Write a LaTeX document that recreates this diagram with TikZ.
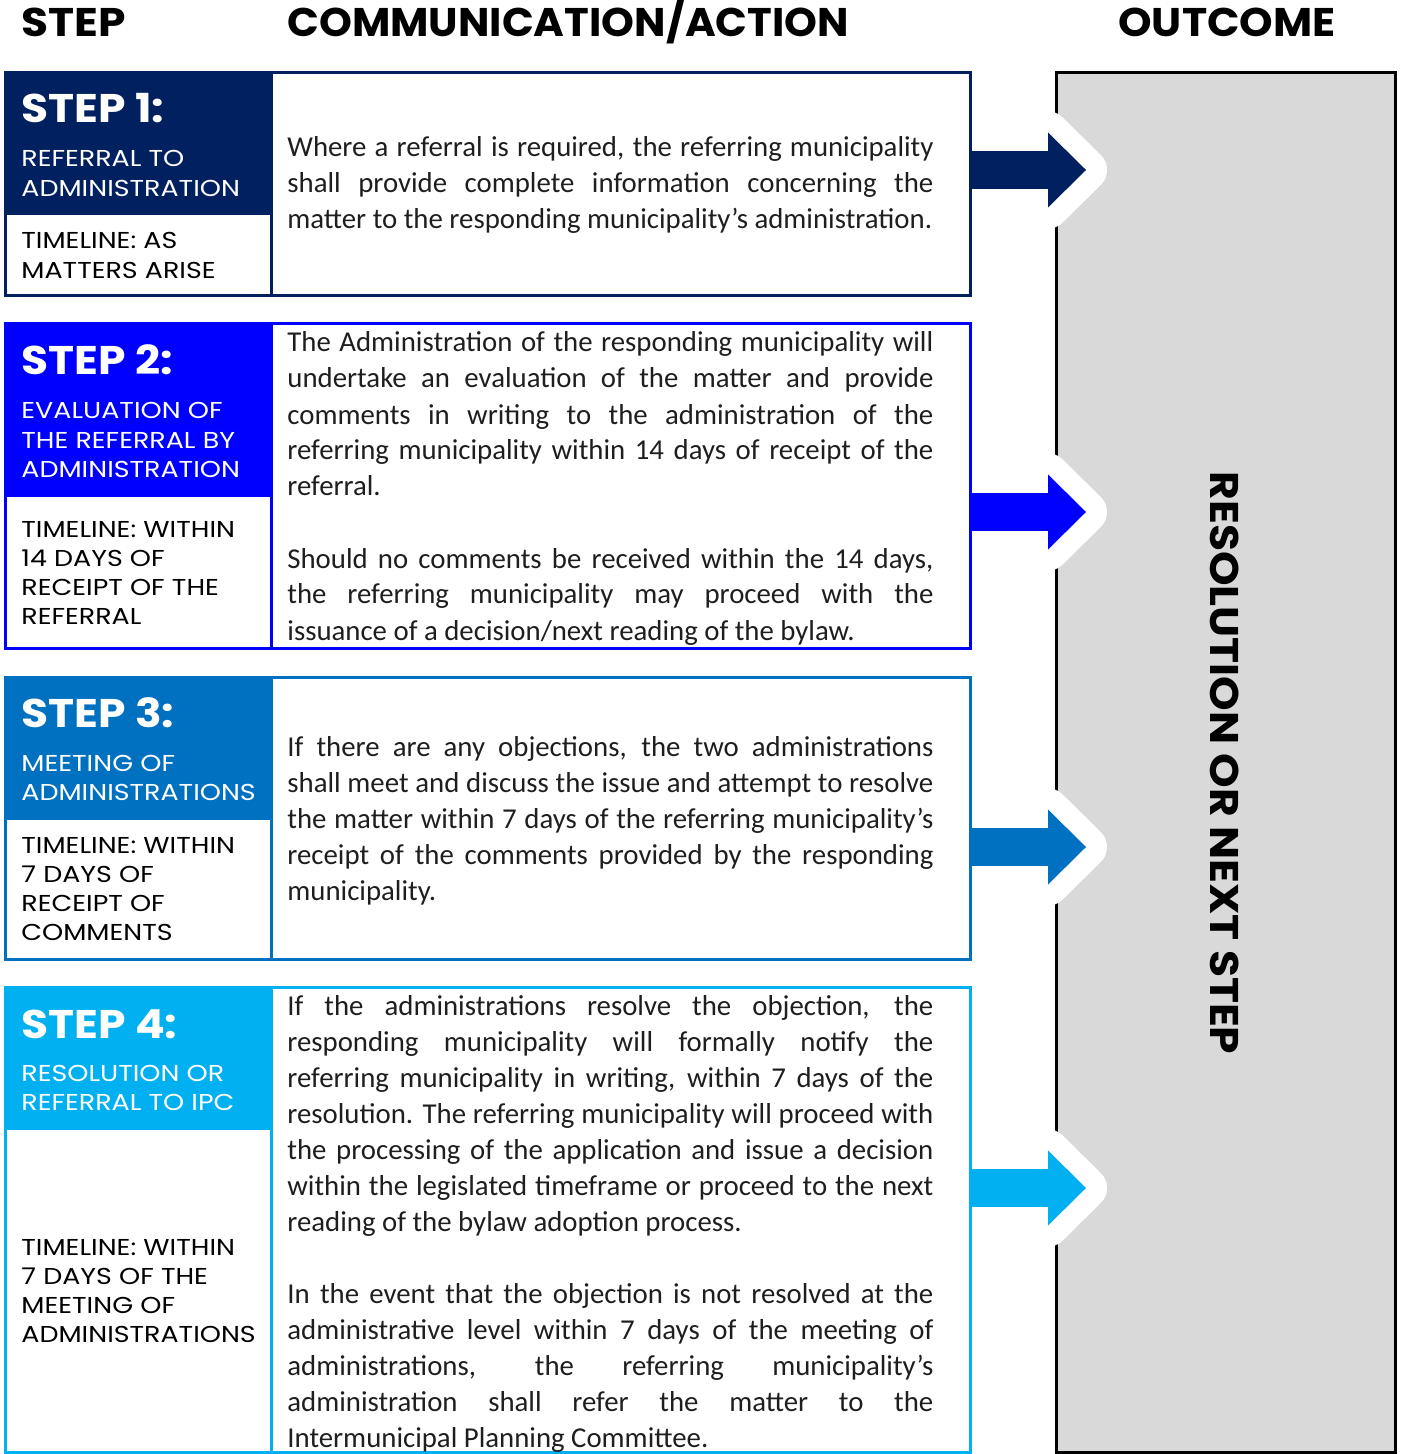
\documentclass[tikz,border=0pt]{standalone}
\usepackage{fontspec}
\setmainfont{Carlito}
\newfontfamily\headfont{Poppins}[FakeStretch=1.1]
\newfontfamily\subheadfont{Poppins}[FakeStretch=1.17]
\definecolor{navy}{HTML}{002060}
\definecolor{pureblue}{HTML}{0000FF}
\definecolor{midblue}{HTML}{0070C0}
\definecolor{lightblue}{HTML}{00B0F0}
\definecolor{panelgrey}{HTML}{D9D9D9}
\definecolor{bodytext}{HTML}{1E1E1E}
\newcommand\JL[1]{\hbox to\linewidth{#1}}
\newcommand\LL[1]{\hbox{#1}}
\newcommand\bodyfont{\fontsize{14.4}{18}\selectfont}
\newcommand\subfont{\subheadfont\fontsize{11.5}{14.6}\selectfont}
\newcommand\stepframe[4]{%
  \fill[#4] (5.5,#1) rectangle (271.5,#2);
  \draw[#4, line width=1.5pt] (5.5,#1) rectangle (970,#3);
  \draw[#4, line width=1.5pt] (271.5,#1) -- (271.5,#3);
}
\newcommand\outarrow[3]{%
  \coordinate (#3s) at (971,#1);
  \coordinate (#3t) at (1086,#1);
  \draw[white, line width=21pt, line join=round] (1048,#1-37.5) -- (#3t) -- (1048,#1+37.5) -- cycle;
  \fill[#2] (971,#1-19) rectangle (1049,#1+19);
  \fill[#2] (1048,#1-37.5) -- (#3t) -- (1048,#1+37.5) -- cycle;
}
\begin{document}
\begin{tikzpicture}[x=0.5pt,y=-0.5pt,
  colhead/.style={font=\headfont\bfseries\fontsize{20}{24}\selectfont, anchor=base west, inner sep=0, text=black},
  steptitle/.style={font=\headfont\bfseries\fontsize{20}{24}\selectfont, anchor=base west, inner sep=0, text=white},
  subtxt/.style={anchor=base west, inner sep=0, text=white},
  timetxt/.style={anchor=base west, inner sep=0, text=black},
  bodytxt/.style={anchor=base west, inner sep=0, text=bodytext}]
\useasboundingbox (0,0) rectangle (1401,1454);

% column headers
\node[colhead] (hstep) at (21,37) {STEP};
\node[colhead] (hcomm) at (287,37) {\scalebox{0.95}[1]{COMMUNICATION/ACTION}};
\node[colhead] (hout) at (1118,37) {\scalebox{0.97}[1]{OUTCOME}};

% outcome panel
\draw[fill=panelgrey, draw=black, line width=1.5pt] (1056.5,72.5) rectangle (1395.5,1452.5);
\node[font=\headfont\bfseries\fontsize{20}{24}\selectfont, rotate=-90, inner sep=0] (res) at (1225,763) {RESOLUTION OR NEXT STEP};

% step frames
\stepframe{72.5}{215.5}{295.5}{navy}
\stepframe{323.7}{497}{648.5}{pureblue}
\stepframe{677}{820}{959}{midblue}
\stepframe{987}{1130}{1452.5}{lightblue}

% arrows
\outarrow{170}{navy}{a1}
\outarrow{512}{pureblue}{a2}
\outarrow{847}{midblue}{a3}
\outarrow{1188}{lightblue}{a4}

% step 1
\node[steptitle] (s1) at (21,123) {STEP 1:};
\node[subtxt] (s1sub) at (21,167) {\begin{minipage}[t]{133pt}\subfont\LL{REFERRAL TO}\LL{ADMINISTRATION}\end{minipage}};
\node[timetxt] (s1time) at (21,249) {\begin{minipage}[t]{133pt}\subfont\LL{TIMELINE: AS}\LL{MATTERS ARISE}\end{minipage}};
\node[bodytxt] (s1body) at (287,157) {\begin{minipage}[t]{323pt}\bodyfont
\JL{Where a referral is required, the referring municipality}
\JL{shall provide complete information concerning the}
\LL{matter to the responding municipality’s administration.}
\end{minipage}};

% step 2
\node[steptitle] (s2) at (21,375) {STEP 2:};
\node[subtxt] (s2sub) at (21,419) {\begin{minipage}[t]{133pt}\subfont\LL{EVALUATION OF}\LL{THE REFERRAL BY}\LL{ADMINISTRATION}\end{minipage}};
\node[timetxt] (s2time) at (21,537) {\begin{minipage}[t]{133pt}\subfont\LL{TIMELINE: WITHIN}\LL{14 DAYS OF}\LL{RECEIPT OF THE}\LL{REFERRAL}\end{minipage}};
\node[bodytxt] (s2body) at (287,352) {\begin{minipage}[t]{323pt}\bodyfont
\JL{The Administration of the responding municipality will}
\JL{undertake an evaluation of the matter and provide}
\JL{comments in writing to the administration of the}
\JL{referring municipality within 14 days of receipt of the}
\LL{referral.}
\LL{}
\JL{Should no comments be received within the 14 days,}
\JL{the referring municipality may proceed with the}
\LL{issuance of a decision/next reading of the bylaw.}
\end{minipage}};

% step 3
\node[steptitle] (s3) at (21,727) {STEP 3:};
\node[subtxt] (s3sub) at (21,771) {\begin{minipage}[t]{133pt}\subfont\LL{MEETING OF}\LL{ADMINISTRATIONS}\end{minipage}};
\node[timetxt] (s3time) at (21,853) {\begin{minipage}[t]{133pt}\subfont\LL{TIMELINE: WITHIN}\LL{7 DAYS OF}\LL{RECEIPT OF}\LL{COMMENTS}\end{minipage}};
\node[bodytxt] (s3body) at (287,756) {\begin{minipage}[t]{323pt}\bodyfont
\JL{If there are any objections, the two administrations}
\JL{shall meet and discuss the issue and attempt to resolve}
\JL{the matter within 7 days of the referring municipality’s}
\JL{receipt of the comments provided by the responding}
\LL{municipality.}
\end{minipage}};

% step 4
\node[steptitle] (s4) at (21,1038) {STEP 4:};
\node[subtxt] (s4sub) at (21,1081) {\begin{minipage}[t]{133pt}\subfont\LL{RESOLUTION OR}\LL{REFERRAL TO IPC}\end{minipage}};
\node[timetxt] (s4time) at (21,1255) {\begin{minipage}[t]{133pt}\subfont\LL{TIMELINE: WITHIN}\LL{7 DAYS OF THE}\LL{MEETING OF}\LL{ADMINISTRATIONS}\end{minipage}};
\node[bodytxt] (s4body) at (287,1015) {\begin{minipage}[t]{323pt}\bodyfont
\JL{If the administrations resolve the objection, the}
\JL{responding municipality will formally notify the}
\JL{referring municipality in writing, within 7 days of the}
\JL{resolution. The referring municipality will proceed with}
\JL{the processing of the application and issue a decision}
\JL{within the legislated timeframe or proceed to the next}
\LL{reading of the bylaw adoption process.}
\LL{}
\JL{In the event that the objection is not resolved at the}
\JL{administrative level within 7 days of the meeting of}
\JL{administrations, the referring municipality’s}
\JL{administration shall refer the matter to the}
\LL{Intermunicipal Planning Committee.}
\end{minipage}};
\end{tikzpicture}
\end{document}
